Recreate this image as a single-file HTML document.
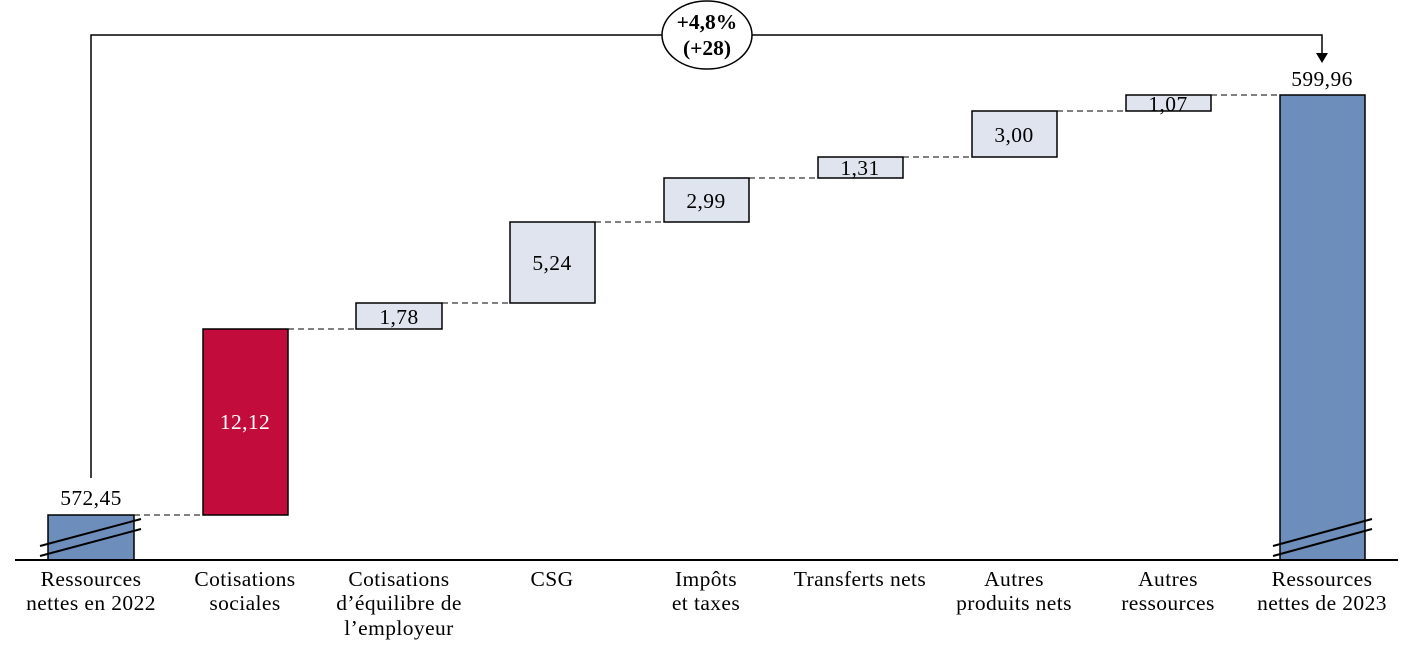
<!DOCTYPE html>
<html><head><meta charset="utf-8"><style>html,body{margin:0;padding:0;background:#fff}</style></head>
<body>
<svg width="1413" height="656" viewBox="0 0 1413 656" xmlns="http://www.w3.org/2000/svg" font-family="Liberation Serif, serif" font-size="21.5" letter-spacing="0.4">
<g stroke="#000" stroke-width="1" stroke-dasharray="6,4">
<line x1="134" y1="515" x2="203" y2="515"/>
<line x1="288" y1="329" x2="356" y2="329"/>
<line x1="442" y1="303" x2="510" y2="303"/>
<line x1="595" y1="222" x2="664" y2="222"/>
<line x1="749" y1="178" x2="818" y2="178"/>
<line x1="903" y1="157" x2="972" y2="157"/>
<line x1="1057" y1="111" x2="1126" y2="111"/>
<line x1="1211" y1="95" x2="1280" y2="95"/>
</g>
<g stroke="#000" stroke-width="1.5">
<rect x="48" y="515" width="86" height="45" fill="#6d8ebb"/>
<rect x="203" y="329" width="85" height="186" fill="#c20d3c"/>
<rect x="356" y="303" width="86" height="26" fill="#dfe4ee"/>
<rect x="510" y="222" width="85" height="81" fill="#dfe4ee"/>
<rect x="664" y="178" width="85" height="44" fill="#dfe4ee"/>
<rect x="818" y="157" width="85" height="21" fill="#dfe4ee"/>
<rect x="972" y="111" width="85" height="46" fill="#dfe4ee"/>
<rect x="1126" y="95" width="85" height="16" fill="#dfe4ee"/>
<rect x="1280" y="95" width="85" height="465" fill="#6d8ebb"/>
</g>
<g stroke="#000" stroke-width="2">
<line x1="40" y1="546" x2="141" y2="519"/>
<line x1="40" y1="556" x2="141" y2="529"/>
<line x1="1273" y1="546" x2="1372" y2="519"/>
<line x1="1273" y1="556" x2="1372" y2="529"/>
<line x1="15" y1="560" x2="1398" y2="560"/>
</g>
<polyline points="91,478 91,35 1322,35 1322,54" fill="none" stroke="#000" stroke-width="1.5"/>
<polygon points="1316,53 1328,53 1322,63" fill="#000"/>
<ellipse cx="707" cy="35" rx="45" ry="34" fill="#fff" stroke="#000" stroke-width="1.5"/>
<text x="707" y="29" text-anchor="middle" font-weight="bold" letter-spacing="0">+4,8%</text>
<text x="707" y="55" text-anchor="middle" font-weight="bold" letter-spacing="0">(+28)</text>
<g text-anchor="middle">
<text x="91" y="505">572,45</text>
<text x="245" y="429" fill="#fff">12,12</text>
<text x="399" y="324">1,78</text>
<text x="552" y="270">5,24</text>
<text x="706" y="208">2,99</text>
<text x="860" y="175">1,31</text>
<text x="1014" y="142">3,00</text>
<text x="1168" y="111">1,07</text>
<text x="1322" y="86">599,96</text>
<text x="91" y="586">Ressources</text><text x="91" y="610">nettes en 2022</text>
<text x="245" y="586">Cotisations</text><text x="245" y="610">sociales</text>
<text x="399" y="586">Cotisations</text><text x="399" y="610">d’équilibre de</text><text x="399" y="635">l’employeur</text>
<text x="552" y="586">CSG</text>
<text x="706" y="586">Impôts</text><text x="706" y="610">et taxes</text>
<text x="860" y="586">Transferts nets</text>
<text x="1014" y="586">Autres</text><text x="1014" y="610">produits nets</text>
<text x="1168" y="586">Autres</text><text x="1168" y="610">ressources</text>
<text x="1322" y="586">Ressources</text><text x="1322" y="610">nettes de 2023</text>
</g>
</svg>
</body></html>
